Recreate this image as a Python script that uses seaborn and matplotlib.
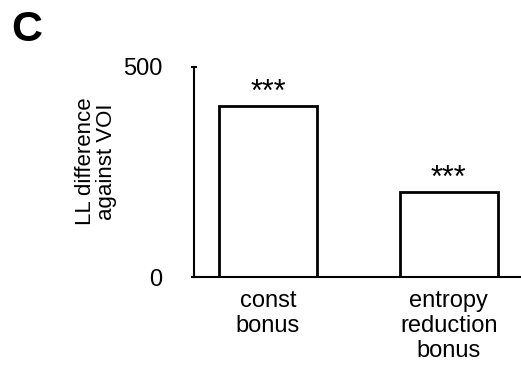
import seaborn as sns
import matplotlib.pyplot as plt
import pandas as pd

models = ["const\nbonus", "entropy\nreduction\nbonus"]
ll_diff = [407, 202]
stars = ["***", "***"]

sns.set_style("white")
plt.rcParams['font.family'] = ['Liberation Sans', 'DejaVu Sans']
plt.rcParams['text.color'] = 'black'
plt.rcParams['xtick.color'] = 'black'
plt.rcParams['ytick.color'] = 'black'
plt.rcParams['axes.labelcolor'] = 'black'

df = pd.DataFrame({"model": models, "ll": ll_diff})

fig = plt.figure(figsize=(5.21, 3.68), dpi=100)
ax = fig.add_axes([0.372, 0.247, 0.628, 0.571])
sns.barplot(data=df, x="model", y="ll", color="white", edgecolor="black",
            linewidth=2, width=0.54, saturation=1, ax=ax)

for i, v in enumerate(ll_diff):
    ax.text(i, v + 12, stars[i], ha="center", va="baseline", fontsize=22)

ax.set_xlim(-0.41, 1.40)
ax.set_ylim(0, 500)
ax.set_yticks([0, 500])
ax.set_xlabel("")
ax.set_ylabel("LL difference\nagainst VOI", fontsize=16, linespacing=1.0)
ax.yaxis.set_label_coords(-0.235, 0.55)
ax.tick_params(axis="y", left=True, labelsize=17, pad=20, length=5, width=1.5,
               direction="inout")
ax.tick_params(axis="x", labelsize=17, length=0, pad=9)
for lbl in ax.get_xticklabels():
    lbl.set_linespacing(1.2)
for s in ["top", "right"]:
    ax.spines[s].set_visible(False)
for s in ["left", "bottom"]:
    ax.spines[s].set_linewidth(1.5)
    ax.spines[s].set_color("black")

fig.text(0.022, 0.972, "C", fontsize=31, fontweight="heavy", va="top", ha="left")

fig.savefig("out.png", dpi=100)
